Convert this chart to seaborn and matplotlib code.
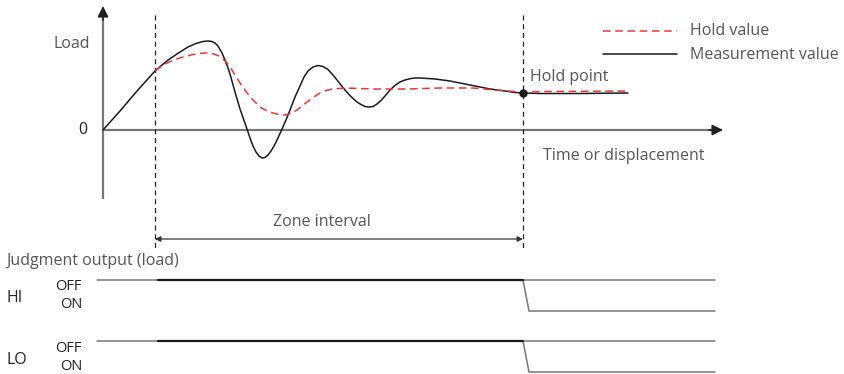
import numpy as np
import pandas as pd
import seaborn as sns
import matplotlib.pyplot as plt

# diagram units: origin of the load/time axes at (0, 0), 1 unit ~ 1 px
meas_t = [0, 17, 34, 52, 65, 77, 85, 93, 100, 105, 109, 112, 115, 117, 119, 122, 125,
          127, 132, 137, 144, 147, 150, 153, 156, 159, 162, 165, 168, 171, 175, 179,
          183, 187, 192, 197, 201, 205, 210, 215, 220, 225, 230, 234, 238, 242, 246,
          250, 254, 258, 262, 266, 270, 274, 278, 282, 287, 292, 297, 302, 307, 312,
          317, 325, 332, 347, 367, 387, 402, 412, 420, 437, 477, 525]
meas_load = [0, 19, 39, 59, 70, 78, 83, 86.5, 88.5, 89, 88.5, 87, 84, 80.5, 77, 70, 62,
             56, 38, 21, 1, -8, -16, -22, -26, -28, -27.5, -25, -21, -16, -8, 1,
             10, 20, 33, 44, 53, 59, 63, 64.5, 63.5, 60.5, 55, 50, 45, 40, 35.5,
             31.5, 28, 25.5, 23.5, 23, 23.5, 26, 29.5, 34, 40, 44.5, 48, 50, 51.3, 52,
             52, 51.5, 51, 49, 45, 41, 39, 37.5, 37, 36.5, 36.5, 37]

hold_t = [52, 58, 64, 72, 80, 90, 100, 106, 111, 116, 120, 124, 128, 132, 137, 142,
          147, 152, 157, 163, 170, 176, 182, 188, 194, 199, 204, 210, 217, 223, 230,
          242, 270, 304, 337, 370, 404, 420, 437, 525]
hold_load = [59, 63.5, 67, 70.5, 73, 75.5, 77, 77, 76, 74, 71, 67, 61.5, 55, 47, 40,
             33, 28, 23, 19.5, 17, 15.5, 15, 16.5, 20, 24, 28, 32.5, 37, 39.5, 41,
             42, 41, 41, 42, 42, 39, 38, 38.5, 39]

hold_point = (420, 37)
zone = (52, 420)

# judgment output timing
off_t = [-6, 612]
drop_t = [420, 426, 612]
zone_on_t = [55, 420]
hi_off, hi_on = -150, -181
lo_off, lo_on = -211, -242

sns.set_theme(style="white")
plt.rcParams['font.family'] = ['Open Sans', 'DejaVu Sans']

fig = plt.figure(figsize=(8.45, 3.74), dpi=100)
ax = fig.add_axes([0, 0, 1, 1])
ax.set_xlim(-103, 742)
ax.set_ylim(-244, 130)
ax.axis('off')

txt_col = '#555555'
fs = 11.5

# axes with arrows
ax.plot([0, 610], [0, 0], color='#777777', lw=1.6, solid_capstyle='butt')
ax.plot([0, 0], [-69, 114], color='#777777', lw=1.6, solid_capstyle='butt')
ax.annotate('', xy=(620, 0), xytext=(606, 0),
            arrowprops=dict(arrowstyle='-|>', color='#1f1f1f', lw=1.2, mutation_scale=16, shrinkA=0, shrinkB=0))
ax.annotate('', xy=(0, 124), xytext=(0, 110),
            arrowprops=dict(arrowstyle='-|>', color='#1f1f1f', lw=1.2, mutation_scale=16, shrinkA=0, shrinkB=0))

# zone boundaries
for xv in zone:
    ax.plot([xv, xv], [115, -118], color='#222222', lw=0.9, ls=(0, (4, 3)))

# curves
df_m = pd.DataFrame({'t': meas_t, 'load': meas_load})
df_h = pd.DataFrame({'t': hold_t, 'load': hold_load})
sns.lineplot(data=df_m, x='t', y='load', ax=ax, sort=False, color='#1a1a1a', lw=1.1)
sns.lineplot(data=df_h, x='t', y='load', ax=ax, sort=False, color='#e8383d', lw=1.1,
             dashes=False, linestyle=(0, (5, 3)))
ax.plot(*hold_point, 'o', color='#1a1a1a', ms=5)

# zone interval arrow
ax.annotate('', xy=(zone[1], -109), xytext=(zone[0], -109),
            arrowprops=dict(arrowstyle='<|-|>', color='#333333', lw=0.9, mutation_scale=8, shrinkA=0, shrinkB=0))
ax.text(219, -92, 'Zone interval', ha='center', va='center', fontsize=fs, color=txt_col)

# legend
ax.plot([500, 574], [99, 99], color='#e8383d', lw=1.1, ls=(0, (5, 3)))
ax.plot([500, 574], [76, 76], color='#1a1a1a', lw=1.1)
ax.text(587, 99, 'Hold value', va='center', fontsize=fs, color=txt_col)
ax.text(587, 75, 'Measurement value', va='center', fontsize=fs, color=txt_col)

# labels
ax.text(-13, 86, 'Load', ha='right', va='center', fontsize=fs, color=txt_col)
ax.text(-16, 0, '0', ha='right', va='center', fontsize=fs, color='#222222')
ax.text(440, -26, 'Time or displacement', va='center', fontsize=fs, color=txt_col)
ax.text(427, 53, 'Hold point', va='center', fontsize=fs, color=txt_col)

# judgment output
ax.text(-97, -131, 'Judgment output (load)', va='center', fontsize=11.5, color=txt_col)
for off, on, name in [(hi_off, hi_on, 'HI'), (lo_off, lo_on, 'LO')]:
    ax.plot(off_t, [off, off], color='#777777', lw=1.1)
    df_s = pd.DataFrame({'t': drop_t, 'level': [off, on, on]})
    sns.lineplot(data=df_s, x='t', y='level', ax=ax, sort=False, color='#777777', lw=1.1)
    ax.plot(zone_on_t, [off, off], color='#1a1a1a', lw=1.6)
    ax.text(-96, (off + on) / 2 - 3, name, va='center', fontsize=11.5, color='#222222')
    ax.text(-21, off - 7, 'OFF', ha='right', va='center', fontsize=10.5, color='#222222')
    ax.text(-21, off - 25, 'ON', ha='right', va='center', fontsize=10.5, color='#222222')

ax.set_xlabel('')
ax.set_ylabel('')
fig.savefig('out.png', dpi=100)
